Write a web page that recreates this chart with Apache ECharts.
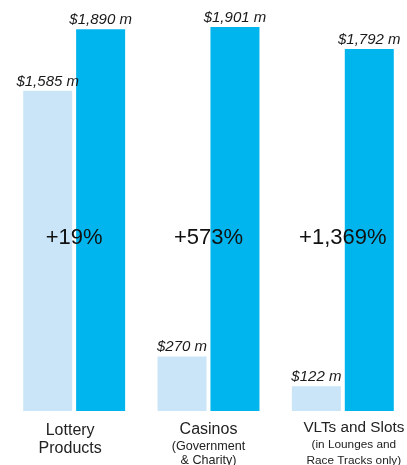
<!DOCTYPE html>
<html>
<head>
<meta charset="utf-8">
<script src="https://cdn.jsdelivr.net/npm/echarts@6/dist/echarts.min.js"></script>
<style>html,body{margin:0;padding:0;background:#fff}#c{width:407px;height:465px}</style>
</head>
<body>
<div id="c"></div>
<script>
var categories = ['Lottery\nProducts', 'Casinos', 'VLTs and Slots'];
var subtitles = ['', '(Government\n& Charity)', '(in Lounges and\nRace Tracks only)'];
var beforeValues = [1585, 270, 122];
var afterValues = [1890, 1901, 1792];
var changeLabels = ['+19%', '+573%', '+1,369%'];

var chart = echarts.init(document.getElementById('c'));
var FONT = '"Liberation Sans", Arial, sans-serif';

function valueLabel(v) {
  return '$' + v.toLocaleString('en-US') + ' m';
}

var rich = {
  m0: {fontSize: 16, lineHeight: 18, color: '#222', fontFamily: FONT, padding: [5, 8, 0, 0]},
  m1: {fontSize: 16, lineHeight: 18, color: '#222', fontFamily: FONT, padding: [4, 0, 0, 0]},
  m2: {fontSize: 15.3, lineHeight: 18, color: '#222', fontFamily: FONT, padding: [0, 0, 0, 22]},
  f1: {fontSize: 12.6, lineHeight: 15, color: '#222', fontFamily: FONT, padding: [5, 0, 0, 0]},
  s1: {fontSize: 12.6, lineHeight: 15, color: '#222', fontFamily: FONT, padding: [3, 0, 0, 0]},
  f2: {fontSize: 11.8, lineHeight: 16, color: '#222', fontFamily: FONT, padding: [0, 0, 0, 22]},
  s2: {fontSize: 11.8, lineHeight: 16, color: '#222', fontFamily: FONT, padding: [0, 0, 0, 22]}
};

chart.setOption({
  animation: false,
  grid: {left: 7, right: -3, top: 7, bottom: 54, containLabel: false, outerBoundsMode: 'none'},
  xAxis: {
    type: 'category',
    data: categories,
    axisLine: {show: false},
    axisTick: {show: false},
    axisLabel: {
      interval: 0,
      margin: 8,
      verticalAlign: 'top',
      formatter: function (val, idx) {
        var lines = val.split('\n').map(function (l) { return '{m' + idx + '|' + l + '}'; });
        if (subtitles[idx]) {
          subtitles[idx].split('\n').forEach(function (l, j) {
            lines.push('{' + (j === 0 ? 'f' : 's') + idx + '|' + l + '}');
          });
        }
        return lines.join('\n');
      },
      rich: rich
    }
  },
  yAxis: {type: 'value', min: 0, max: 2000, show: false, splitLine: {show: false}},
  series: [
    {
      type: 'bar',
      data: beforeValues,
      barWidth: 49,
      barGap: '8%',
      itemStyle: {color: '#C9E5F7'},
      label: {
        show: true, position: 'top', distance: 2,
        formatter: function (p) { return valueLabel(p.value); },
        fontFamily: FONT, fontStyle: 'italic', fontSize: 15, color: '#1a1a1a'
      }
    },
    {
      type: 'bar',
      data: afterValues,
      barWidth: 49,
      barGap: '8%',
      itemStyle: {color: '#00B5EE'},
      label: {
        show: true, position: 'top', distance: 2,
        formatter: function (p) { return valueLabel(p.value); },
        fontFamily: FONT, fontStyle: 'italic', fontSize: 15, color: '#1a1a1a'
      }
    },
    {
      type: 'custom',
      z: 10,
      data: changeLabels.map(function (t, i) { return [i]; }),
      renderItem: function (params, api) {
        var idx = api.value(0);
        var cs = params.coordSys;
        var x = api.coord([idx, 0])[0];
        var y = cs.y + cs.height * 0.571;
        return {
          type: 'text',
          style: {
            x: x, y: y,
            text: changeLabels[params.dataIndex],
            fontFamily: FONT, fontSize: 22, fill: '#111',
            align: 'center', verticalAlign: 'middle'
          }
        };
      }
    }
  ]
});
</script>
</body>
</html>
